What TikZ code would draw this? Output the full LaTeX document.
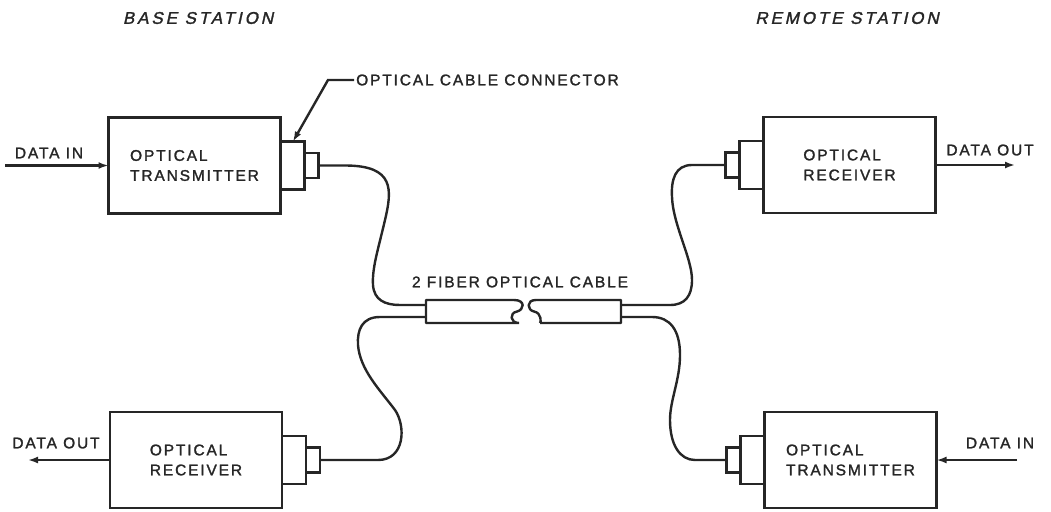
\documentclass[tikz,border=0pt]{standalone}
\usepackage{fontspec}
\setmainfont{Liberation Sans}
\newfontfamily\letterfont[LetterSpace=12,FakeBold=1.6]{Liberation Sans}
\newfontfamily\stationfont[LetterSpace=17,FakeSlant=0.22,FakeBold=1.6]{Liberation Sans}
\usetikzlibrary{
  arrows.meta,  % Latex arrow tips
  positioning   % plugs placed next to their boxes
}

\begin{document}
\begin{tikzpicture}[x=1pt, y=-1pt, >={Latex[length=10pt,width=7pt]},
  line width=2.4pt, black!85,
  unitbox/.style={draw, minimum width=172pt, minimum height=96pt, align=left,
    inner sep=0pt, outer sep=0pt, font=\letterfont\fontsize{15.5}{20}\selectfont},
  plugouter/.style={draw, minimum width=24pt, minimum height=48pt, inner sep=0pt, outer sep=0pt},
  pluginner/.style={draw, minimum width=14pt, minimum height=25pt, inner sep=0pt, outer sep=0pt},
  tag/.style={font=\letterfont\fontsize{15.5}{18}\selectfont, inner sep=1pt},
  station/.style={font=\stationfont\fontsize{17}{20}\selectfont, inner sep=1pt}]

  \useasboundingbox (0,0) rectangle (1051,511);

  % =========== station titles ===========
  \node[station] (basettl) at (198,18) {BASE STATION};
  \node[station] (remotettl) at (847,18) {REMOTE STATION};

  % =========== base station ===========
  \node[unitbox] (btx) at (194.5,165.5) {OPTICAL\\TRANSMITTER};
  \node[plugouter, right=0pt of btx] (btxc) {};
  \node[pluginner, right=0pt of btxc] (btxp) {};
  \node[unitbox] (brx) at (196,460) {OPTICAL\\RECEIVER};
  \node[plugouter, right=0pt of brx] (brxc) {};
  \node[pluginner, right=0pt of brxc] (brxp) {};

  % =========== remote station ===========
  \node[unitbox] (rrx) at (849.5,165) {OPTICAL\\RECEIVER};
  \node[plugouter, left=0pt of rrx] (rrxc) {};
  \node[pluginner, left=0pt of rrxc] (rrxp) {};
  \node[unitbox] (rtx) at (850.5,460) {OPTICAL\\TRANSMITTER};
  \node[plugouter, left=0pt of rtx] (rtxc) {};
  \node[pluginner, left=0pt of rtxc] (rtxp) {};

  % =========== data in / out ===========
  \coordinate (bin) at (5,165.5);
  \coordinate (bout) at (28,460);
  \coordinate (rout) at (1015,165);
  \coordinate (rin) at (1017,460);
  \node[tag] (binlbl) at (49,153) {DATA IN};
  \node[tag] (boutlbl) at (56,443) {DATA OUT};
  \node[tag] (routlbl) at (990,150) {DATA OUT};
  \node[tag] (rinlbl) at (1000,443) {DATA IN};
  \draw[->] (bin) -- (btx.west);
  \draw[->] (brx.west) -- (bout);
  \draw[->] (rrx.east) -- (rout);
  \draw[->] (rin) -- (rtx.east);

  % =========== connector callout ===========
  \node[tag, anchor=west] (conlbl) at (354,80) {OPTICAL CABLE CONNECTOR};
  \coordinate (conknee) at (328,80);
  \draw[->] (conlbl.west) -- (conknee) -- (btxc.north -| 293,0);

  % =========== two fiber cable ===========
  \node[tag] (cablelbl) at (520,282) {2 FIBER OPTICAL CABLE};
  % sheath, broken in the middle
  \draw[line join=round] (514,300) -- (426,300) -- (426,323) -- (519,323)
        (514,300) .. controls (526,300) and (524,310) .. (517,311.5)
        .. controls (509,313) and (510,323) .. (519,323);
  \draw[line join=round] (536,300) -- (621,300) -- (621,323) -- (540,323)
        (536,300) .. controls (526,300) and (527,310) .. (534,311.5)
        .. controls (542,313) and (541,323) .. (540,323);
  \coordinate (sl1) at (426,305);
  \coordinate (sl2) at (426,317);
  \coordinate (sr1) at (621,305);
  \coordinate (sr2) at (621,317);

  % fibers from the plugs into the sheath
  \draw (btxp.east) -- (345,165.5) .. controls (395,165.5) and (392,190) .. (385,220)
        .. controls (378,250) and (372,268) .. (373,285)
        .. controls (374,300) and (385,305) .. (400,305) -- (sl1);
  \draw (sl2) -- (380,317) .. controls (362,317) and (357,330) .. (358,345)
        .. controls (360,370) and (380,390) .. (395,410)
        .. controls (406,426) and (405,460) .. (378,460) -- (brxp.east);
  \draw (rrxp.west) -- (692,165) .. controls (675,165) and (671,180) .. (672,197)
        .. controls (673,225) and (692,258) .. (692,280)
        .. controls (692,296) and (685,305) .. (670,305) -- (sr1);
  \draw (sr2) -- (652,317) .. controls (670,317) and (680,330) .. (680,355)
        .. controls (680,380) and (670,400) .. (670,420)
        .. controls (670,445) and (680,460) .. (695,460) -- (rtxp.west);

\end{tikzpicture}
\end{document}
